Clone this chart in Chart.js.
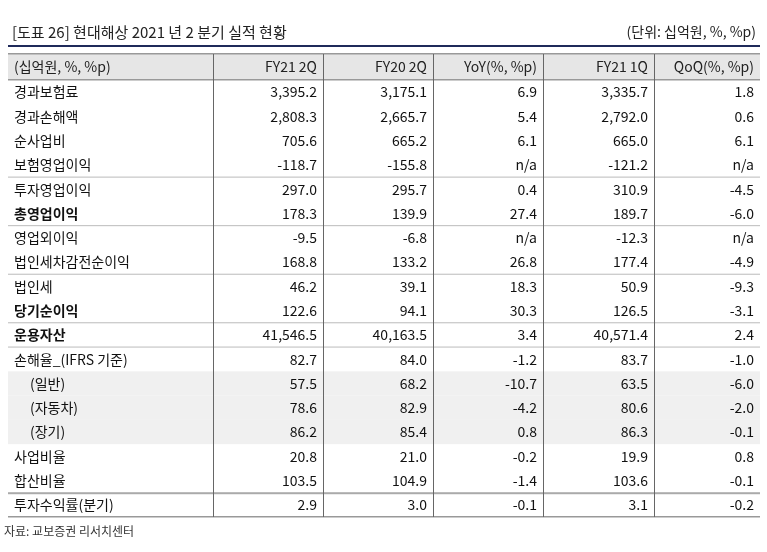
<!DOCTYPE html>
<html><head><meta charset="utf-8">
<script src="https://cdn.jsdelivr.net/npm/chart.js@4"></script>
<style>html,body{margin:0;background:#fff}#wrap{width:767px;height:552px}</style>
</head><body><div id="wrap"><canvas id="c"></canvas></div>
<script>
// 현대해상 2021년 2분기 실적 표
const title = '[도표 26] 현대해상 2021 년 2 분기 실적 현황';
const unit = '(단위: 십억원, %, %p)';
const source = '자료: 교보증권 리서치센터';
const columns = ['(십억원, %, %p)', 'FY21 2Q', 'FY20 2Q', 'YoY(%, %p)', 'FY21 1Q', 'QoQ(%, %p)'];
const rowLabels = ['경과보험료', '경과손해액', '순사업비', '보험영업이익', '투자영업이익', '총영업이익',
  '영업외이익', '법인세차감전순이익', '법인세', '당기순이익', '운용자산', '손해율_(IFRS 기준)',
  '(일반)', '(자동차)', '(장기)', '사업비율', '합산비율', '투자수익률(분기)'];
const fy21q2 = ['3,395.2', '2,808.3', '705.6', '-118.7', '297.0', '178.3', '-9.5', '168.8', '46.2', '122.6', '41,546.5', '82.7', '57.5', '78.6', '86.2', '20.8', '103.5', '2.9'];
const fy20q2 = ['3,175.1', '2,665.7', '665.2', '-155.8', '295.7', '139.9', '-6.8', '133.2', '39.1', '94.1', '40,163.5', '84.0', '68.2', '82.9', '85.4', '21.0', '104.9', '3.0'];
const yoy = ['6.9', '5.4', '6.1', 'n/a', '0.4', '27.4', 'n/a', '26.8', '18.3', '30.3', '3.4', '-1.2', '-10.7', '-4.2', '0.8', '-0.2', '-1.4', '-0.1'];
const fy21q1 = ['3,335.7', '2,792.0', '665.0', '-121.2', '310.9', '189.7', '-12.3', '177.4', '50.9', '126.5', '40,571.4', '83.7', '63.5', '80.6', '86.3', '19.9', '103.6', '3.1'];
const qoq = ['1.8', '0.6', '6.1', 'n/a', '-4.5', '-6.0', 'n/a', '-4.9', '-9.3', '-3.1', '2.4', '-1.0', '-6.0', '-2.0', '-0.1', '0.8', '-0.1', '-0.2'];
const boldRows = ['총영업이익', '당기순이익', '운용자산'];
const indentRows = ['(일반)', '(자동차)', '(장기)'];
const shadedRows = ['(일반)', '(자동차)', '(장기)'];
const lineAfter = ['보험영업이익', '총영업이익', '법인세차감전순이익', '당기순이익', '운용자산', '합산비율'];

const colEdges = [8, 213, 323, 433, 543, 654, 760];
const FONT = '"Noto Sans CJK KR", "Noto Sans", sans-serif';
const valueCols = [fy21q2, fy20q2, yoy, fy21q1, qoq];

const tablePlugin = {
  id: 'table',
  afterDraw(chart) {
    const ctx = chart.ctx, y = chart.scales.y, area = chart.chartArea;
    const rowH = Math.abs(y.getPixelForValue(1) - y.getPixelForValue(0));
    ctx.save();
    ctx.textBaseline = 'middle';
    // title
    ctx.fillStyle = '#222';
    ctx.font = '15px ' + FONT;
    ctx.textAlign = 'left';
    ctx.fillText(title, 12, 32);
    ctx.textAlign = 'right';
    ctx.font = '14px ' + FONT;
    ctx.fillText(unit, 756, 32);
    ctx.fillStyle = '#1f2a5a';
    ctx.fillRect(8, 45, 752, 2);
    // header
    const hTop = 54, hBot = area.top;
    ctx.fillStyle = '#e6e6e6';
    ctx.fillRect(8, hTop, 752, hBot - hTop);
    ctx.fillStyle = '#999';
    ctx.fillRect(8, hTop - 1, 752, 1.5);
    ctx.fillRect(8, hBot - 1, 752, 1.5);
    ctx.font = '14px ' + FONT;
    ctx.fillStyle = '#222';
    columns.forEach((c, i) => {
      ctx.textAlign = i === 0 ? 'left' : 'right';
      ctx.fillText(c, i === 0 ? 14 : colEdges[i + 1] - 6, (hTop + hBot) / 2);
    });
    // rows
    rowLabels.forEach((lab, r) => {
      const cy = y.getPixelForValue(r);
      if (shadedRows.includes(lab)) {
        ctx.fillStyle = '#f0f0f0';
        ctx.fillRect(8, cy - rowH / 2, 752, rowH);
      }
    });
    rowLabels.forEach((lab, r) => {
      const cy = y.getPixelForValue(r);
      const bold = boldRows.includes(lab);
      ctx.fillStyle = '#111';
      ctx.font = (bold ? 'bold ' : '') + '14px ' + FONT;
      ctx.textAlign = 'left';
      ctx.fillText(lab, indentRows.includes(lab) ? 30 : 14, cy);
      ctx.font = '14px ' + FONT;
      ctx.textAlign = 'right';
      valueCols.forEach((col, i) => ctx.fillText(col[r], colEdges[i + 2] - 6, cy));
      if (lineAfter.includes(lab)) {
        ctx.fillStyle = lab === '합산비율' ? '#aaa' : '#bbb';
        ctx.fillRect(8, cy + rowH / 2 - 0.5, 752, lab === '합산비율' ? 2 : 1);
      }
    });
    ctx.fillStyle = '#999';
    ctx.fillRect(8, area.bottom - 1, 752, 1.5);
    // vertical lines
    ctx.fillStyle = '#666';
    colEdges.slice(1, 6).forEach(x => ctx.fillRect(x, hTop, 1, area.bottom - hTop));
    // source
    ctx.fillStyle = '#333';
    ctx.font = '12px ' + FONT;
    ctx.textAlign = 'left';
    ctx.fillText(source, 4, 531);
    ctx.restore();
  }
};

new Chart(document.getElementById('c'), {
  type: 'line',
  data: { labels: rowLabels, datasets: [{ data: rowLabels.map((_, i) => ({ x: 0, y: rowLabels[i] })), showLine: false, pointRadius: 0 }] },
  plugins: [tablePlugin],
  options: {
    responsive: true, maintainAspectRatio: false, animation: false,
    layout: { padding: { top: 80, bottom: 35, left: 8, right: 7 } },
    plugins: { legend: { display: false }, tooltip: { enabled: false } },
    scales: {
      x: { type: 'linear', display: false, min: 0, max: 1 },
      y: { type: 'category', labels: rowLabels, display: false, offset: true }
    }
  }
});
</script></body></html>
